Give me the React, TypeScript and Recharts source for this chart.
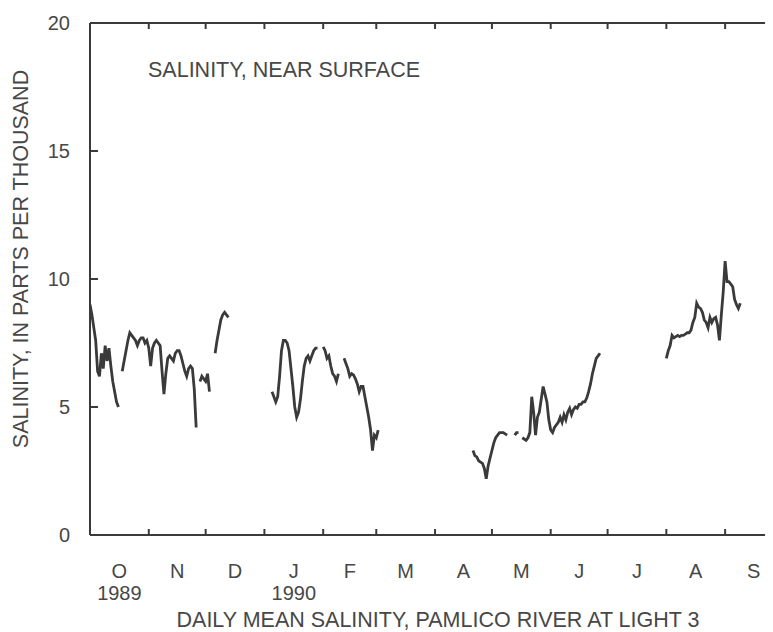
import { LineChart, Line, XAxis, YAxis } from 'recharts'

// Scanned USGS style plot, dark grey ink on white
const INK = '#3a3a3a'
const TEXT = '#474747'
const FONT = '"Liberation Sans", Arial, sans-serif'

// water year Oct 1989 - Sep 1990, day 0 = Oct 1 1989
const MONTH_LETTERS = ['O', 'N', 'D', 'J', 'F', 'M', 'A', 'M', 'J', 'J', 'A', 'S']
const MONTH_START_DAYS = [0, 31, 61, 92, 123, 151, 182, 212, 243, 273, 304, 335, 365]
const YEAR_LABELS: Record<number, string> = { 0: '1989', 3: '1990' }
const SALINITY_TICKS = [0, 5, 10, 15, 20]

// daily mean salinity (ppt), null = missing record
const OCT_START = 0
const octValues = [9.0, 8.6, 8.1, 7.6, 6.4, 6.2, 7.1, 6.5, 7.4, 6.8, 7.3, 6.6, 6.0, 5.6, 5.2, 5.0]

const OCT_DEC_START = 17
const octDecValues = [
  6.4, 6.8, 7.2, 7.6, 7.9, 7.8, 7.7, 7.6, 7.4, 7.6, 7.7, 7.7, 7.5, 7.6, 7.3, 6.6, 7.3, 7.5, 7.6, 7.5,
  7.4, 6.4, 5.5, 6.3, 6.9, 7.0, 6.9, 6.8, 7.1, 7.2, 7.2, 7.0, 6.7, 6.4, 6.2, 6.5, 6.6, 6.5, 5.7, 4.2,
  null, 6.0, 6.2, 6.1, 6.0, 6.3, 5.6,
]

const DEC_START = 66
const decValues = [7.1, 7.6, 8.0, 8.4, 8.6, 8.7, 8.6, 8.5]

const JAN_MAR_START = 96
const janMarValues = [
  5.6, 5.4, 5.2, 5.4, 6.2, 7.2, 7.6, 7.6, 7.5, 7.2, 6.5, 5.8, 5.0, 4.6, 4.8, 5.3, 6.0, 6.6, 6.9, 7.0,
  6.8, 7.0, 7.2, 7.3, 7.3, null, null, 7.35, 7.2, 6.9, 7.0, 6.6, 6.3, 6.2, 6.0, 6.3, null, null,
  6.9, 6.7, 6.5, 6.2, 6.3, 6.25, 6.1, 5.9, 5.6, 5.8, 5.8, 5.4, 5.0, 4.6, 4.1, 3.3, 3.9, 3.8, 4.1,
]

const APR_JUN_START = 202
const aprJunValues = [
  3.3, 3.1, 3.05, 2.9, 2.85, 2.8, 2.6, 2.2, 2.7, 3.0, 3.3, 3.6, 3.8, 3.9, 4.0, 4.0, 4.0, 3.95, 3.9,
  null, null, null, 3.9, 4.0, 4.0, null,
  3.8, 3.75, 3.7, 3.8, 4.0, 5.4, 4.8, 3.9, 4.6, 4.8, 5.3, 5.8, 5.5, 5.2, 4.5, 4.1, 4.0, 4.2, 4.3,
  4.4, 4.6, 4.4, 4.7, 4.5, 4.8, 4.95, 4.7, 4.9, 5.0, 4.95, 5.1, 5.1, 5.2, 5.2, 5.35, 5.6, 5.9, 6.3,
  6.6, 6.9, 7.0, 7.1,
]

const AUG_SEP_START = 304
const augSepValues = [
  6.9, 7.2, 7.4, 7.8, 7.7, 7.75, 7.8, 7.75, 7.8, 7.8, 7.85, 7.9, 7.9, 8.0, 8.3, 8.5, 9.05, 8.9, 8.85,
  8.7, 8.4, 8.3, 8.1, 8.5, 8.3, 8.45, 8.5, 8.2, 7.6, 8.6, 9.5, 10.7, 9.9, 9.9, 9.8, 9.7, 9.2, 9.0,
  8.85, 9.05,
]

const toPoints = (start: number, values: Array<number | null>) =>
  values.map((v, i) => ({ day: start + i, salinity: v }))

const segments = [
  toPoints(OCT_START, octValues),
  toPoints(OCT_DEC_START, octDecValues),
  toPoints(DEC_START, decValues),
  toPoints(JAN_MAR_START, janMarValues),
  toPoints(APR_JUN_START, aprJunValues),
  toPoints(AUG_SEP_START, augSepValues),
]

const MID_MONTH_DAYS = MONTH_START_DAYS.slice(0, -1).map((d, i) => (d + MONTH_START_DAYS[i + 1]) / 2)
const DOMAIN: [number, number] = [0, 365]
const Y_DOMAIN: [number, number] = [0, 20]

const WIDTH = 790
const HEIGHT = 624

const renderMonthTick = (props: any) => {
  const { x, y, payload } = props
  let i = MID_MONTH_DAYS.findIndex((d) => Math.abs(d - Number(payload.value)) < 0.01)
  if (i < 0) i = props.index
  return (
    <g fontFamily={FONT} fontSize={20} fill={TEXT} textAnchor="middle">
      <text x={x} y={y + 43}>{MONTH_LETTERS[i]}</text>
      {YEAR_LABELS[i] && <text x={x} y={y + 65}>{YEAR_LABELS[i]}</text>}
    </g>
  )
}

const frameLine = { stroke: INK, strokeWidth: 2 }
const noLabel = () => ''

export default function App() {
  return (
    <div style={{ position: 'relative', width: 765, height: HEIGHT, overflow: 'hidden' }}>
      <LineChart width={WIDTH} height={HEIGHT} margin={{ top: 14, right: 15, bottom: 0, left: 81 }}>
        {/* frame axes, negative tick size turns the ticks inward */}
        <XAxis
          xAxisId="bottom"
          type="number"
          dataKey="day"
          domain={DOMAIN}
          allowDataOverflow
          ticks={MONTH_START_DAYS}
          interval={0}
          orientation="bottom"
          mirror
          tickFormatter={noLabel}
          tickSize={6}
          axisLine={frameLine}
          tickLine={frameLine}
        />
        <XAxis
          xAxisId="top"
          type="number"
          dataKey="day"
          domain={DOMAIN}
          allowDataOverflow
          ticks={MONTH_START_DAYS}
          interval={0}
          orientation="top"
          height={1}
          tickFormatter={noLabel}
          tickSize={-6}
          axisLine={frameLine}
          tickLine={frameLine}
        />
        <XAxis
          xAxisId="months"
          type="number"
          dataKey="day"
          domain={DOMAIN}
          allowDataOverflow
          ticks={MID_MONTH_DAYS}
          orientation="bottom"
          height={97}
          axisLine={false}
          tickLine={false}
          tickSize={0}
          tickMargin={0}
          interval={0}
          tick={renderMonthTick}
        />
        {/* left frame: 1px wide axis, inward ticks, numbers pushed back out past the line */}
        <YAxis
          yAxisId="left"
          type="number"
          domain={Y_DOMAIN}
          allowDataOverflow
          ticks={SALINITY_TICKS}
          interval={0}
          orientation="left"
          width={1}
          tickSize={-8}
          tickMargin={28}
          axisLine={frameLine}
          tickLine={frameLine}
          tick={{ fontSize: 20, fill: TEXT, fontFamily: FONT }}
        />
        <YAxis
          yAxisId="right"
          type="number"
          domain={Y_DOMAIN}
          allowDataOverflow
          ticks={SALINITY_TICKS}
          interval={0}
          orientation="right"
          width={1}
          tickFormatter={noLabel}
          tickSize={-8}
          axisLine={frameLine}
          tickLine={frameLine}
        />
        {segments.map((data, i) => (
          <Line
            key={i}
            data={data}
            xAxisId="bottom"
            yAxisId="left"
            type="linear"
            dataKey="salinity"
            stroke={INK}
            strokeWidth={2.8}
            dot={false}
            isAnimationActive={false}
          />
        ))}
        {/* transparent copies so the decorative axes get a scale */}
        <Line
          data={segments[5]}
          xAxisId="top"
          yAxisId="right"
          dataKey="salinity"
          stroke="transparent"
          dot={false}
          activeDot={false}
          isAnimationActive={false}
        />
        <Line
          data={segments[5]}
          xAxisId="months"
          yAxisId="left"
          dataKey="salinity"
          stroke="transparent"
          dot={false}
          activeDot={false}
          isAnimationActive={false}
        />
      </LineChart>
      <svg
        width={WIDTH}
        height={HEIGHT}
        style={{ position: 'absolute', left: 0, top: 0, pointerEvents: 'none' }}
        fontFamily={FONT}
        fill={TEXT}
      >
        <text transform="translate(20,251) rotate(-90)" textAnchor="middle" fontSize={21.5}>
          SALINITY, IN PARTS PER THOUSAND
        </text>
        <text x={140} y={69} fontSize={21.5}>
          SALINITY, NEAR SURFACE
        </text>
        <text x={430} y={619} textAnchor="middle" fontSize={21.5}>
          DAILY MEAN SALINITY, PAMLICO RIVER AT LIGHT 3
        </text>
      </svg>
    </div>
  )
}
